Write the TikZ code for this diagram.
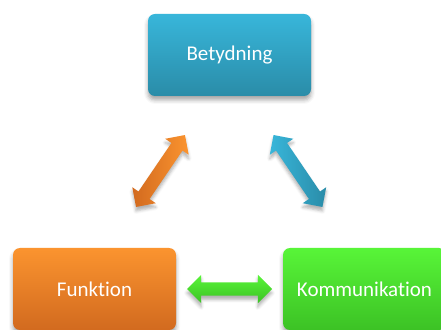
\documentclass[tikz,border=0pt]{standalone}
\usepackage{fontspec}
\setmainfont{Carlito}[Ligatures={NoCommon}]
\usetikzlibrary{shapes.arrows,shadows.blur}
\definecolor{bTop}{HTML}{38B6DA}
\definecolor{bBot}{HTML}{2A8CA8}
\definecolor{oTop}{HTML}{FB942F}
\definecolor{oBot}{HTML}{D26A1F}
\definecolor{gTop}{HTML}{58F538}
\definecolor{gBot}{HTML}{3CC225}
\tikzset{
  box/.style={rounded corners=7pt, minimum width=163pt, minimum height=82pt,
    inner sep=0pt, text=white, font=\fontsize{21}{25}\selectfont,
    blur shadow={shadow xshift=0pt, shadow yshift=-4pt, shadow blur radius=4pt, shadow opacity=35}},
  darrow/.style={double arrow, inner xsep=0pt, inner ysep=6.5pt, double arrow head extend=7.5pt,
    minimum height=#1, double arrow tip angle=90,
    blur shadow={shadow xshift=0pt, shadow yshift=-4pt, shadow blur radius=3pt, shadow opacity=30}}
}
\begin{document}
\begin{tikzpicture}[x=1pt,y=1pt]
\clip (0,0) rectangle (441,329);
\useasboundingbox (0,0) rectangle (441,329);
\node[box, top color=bTop, bottom color=bBot] (bet) at (229.5,274) {Betydning};
\node[box, top color=oTop, bottom color=oBot] (fun) at (94.5,40) {Funktion};
\node[box, top color=gTop, bottom color=gBot] (kom) at (364.5,40) {Kommunikation};
\node[darrow=87pt, rotate=55.8, left color=oBot, right color=oTop] (a1) at (160.5,158) {};
\node[darrow=87pt, rotate=124.2, left color=bTop, right color=bBot] (a2) at (298,158) {};
\node[darrow=85pt, top color=gTop, bottom color=gBot] (a3) at (229.5,40) {};
\end{tikzpicture}
\end{document}
